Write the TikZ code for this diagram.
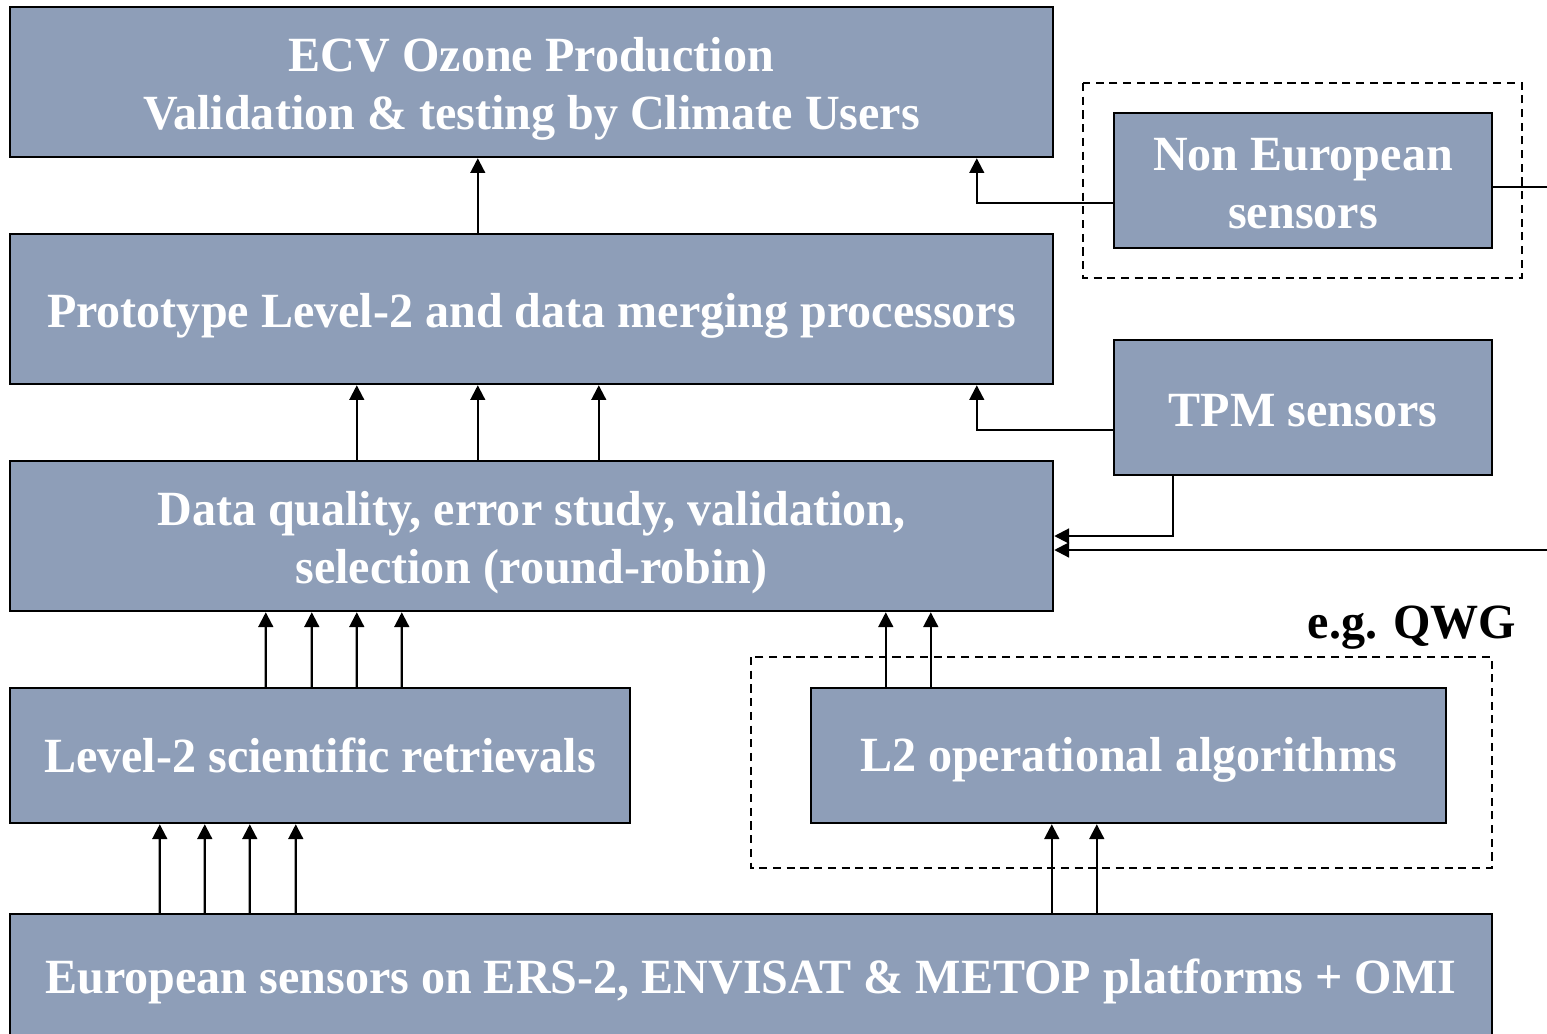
\documentclass[tikz,border=0pt]{standalone}
\usepackage{fontspec}
\setmainfont{Liberation Serif}[FakeStretch=0.977]
\usepackage{tikz}
\usetikzlibrary{arrows.meta,calc}

\definecolor{boxblue}{RGB}{142,158,184}
% invisible strut that pushes the first line of a box down a little
\newcommand{\linedrop}[1]{\rule{0pt}{#1}}

\begin{document}
\begin{tikzpicture}[>={Triangle[length=4.2pt,width=4.2pt]}, line width=0.6pt, inner sep=0pt,
	box/.style={rectangle, draw=black, line width=0.7pt, fill=boxblue, text=white, align=center,
		font=\bfseries\fontsize{14}{16.5}\selectfont},
	frame/.style={draw=black, line width=0.6pt, dash pattern=on 2.3pt off 1.6pt}]
			\useasboundingbox (0,0) rectangle (15.47,-10.33);
			
			% dashed groups behind the boxes
			\draw[frame] (10.83,-0.83) rectangle (15.22,-2.78);
			\draw[frame] (7.51,-6.57) rectangle (14.92,-8.68);
			
			\node[box, minimum width=10.43cm, minimum height=1.50cm](ecv) at (5.315,-0.82) {\linedrop{13.5pt}ECV Ozone Production\\Validation \& testing by Climate Users};
			\node[box, minimum width=10.43cm, minimum height=1.50cm](proto) at (5.315,-3.09) {\linedrop{13.5pt}Prototype Level-2 and data merging processors};
			\node[box, minimum width=10.43cm, minimum height=1.50cm](dq) at (5.315,-5.36) {\linedrop{13.5pt}Data quality, error study, validation,\\selection (round-robin)};
			\node[box, minimum width=6.20cm, minimum height=1.35cm](sci) at (3.20,-7.555) {Level-2 scientific retrievals};
			\node[box, minimum width=6.35cm, minimum height=1.35cm](op) at (11.285,-7.555) {\linedrop{12.3pt}L2 operational algorithms};
			\node[box, minimum width=14.82cm, minimum height=1.35cm](euro) at (7.51,-9.815) {European sensors on ERS-2, ENVISAT \& METOP platforms + OMI};
			\node[box, minimum width=3.78cm, minimum height=1.35cm](noneu) at (13.03,-1.805) {\linedrop{11.2pt}Non European\\sensors};
			\node[box, minimum width=3.78cm, minimum height=1.35cm](tpm) at (13.03,-4.075) {\linedrop{11.2pt}TPM sensors};
			\node[anchor=east, font=\bfseries\fontsize{14}{16.5}\selectfont](qwg) at (15.17,-6.28) {e.g. QWG};
			
			\coordinate (outA) at (15.47,-1.87);
			\coordinate (outB) at (15.47,-5.50);
			
			% upward flow
			\draw[->] ($(proto.north west)+(4.69,0)$) -- ($(ecv.south west)+(4.69,0)$);
			\foreach \x in {3.48,4.69,5.90}
				\draw[->] ($(dq.north west)+(\x,0)$) -- ($(proto.south west)+(\x,0)$);
			\foreach \x in {2.57,3.03,3.48,3.93}
				\draw[->] ($(sci.north west)+(\x,0)$) -- ($(dq.south west)+(\x,0)$);
			\foreach \x in {0.76,1.21}
				\draw[->] ($(op.north west)+(\x,0)$) coordinate (p) -- (p |- dq.south);
			\foreach \x in {1.51,1.96,2.41,2.87}
				\draw[->] ($(euro.north west)+(\x,0)$) -- ($(sci.south west)+(\x,0)$);
			\foreach \x in {2.42,2.87}
				\draw[->] ($(op.south west)+(\x,0)$) coordinate (p) (p |- euro.north) -- (p);
			
			% side inputs
			\draw[->] ($(noneu.west)+(0,-0.225)$) -| ($(ecv.south west)+(9.68,0)$);
			\draw[->] ($(tpm.west)+(0,-0.225)$) -| ($(proto.south west)+(9.68,0)$);
			\draw[->] ($(tpm.south west)+(0.60,0)$) |- (dq.east);
			\draw (noneu.east |- outA) -- (outA);
			\draw[->] (outB) -- (dq.east |- outB);
		\end{tikzpicture}
\end{document}
